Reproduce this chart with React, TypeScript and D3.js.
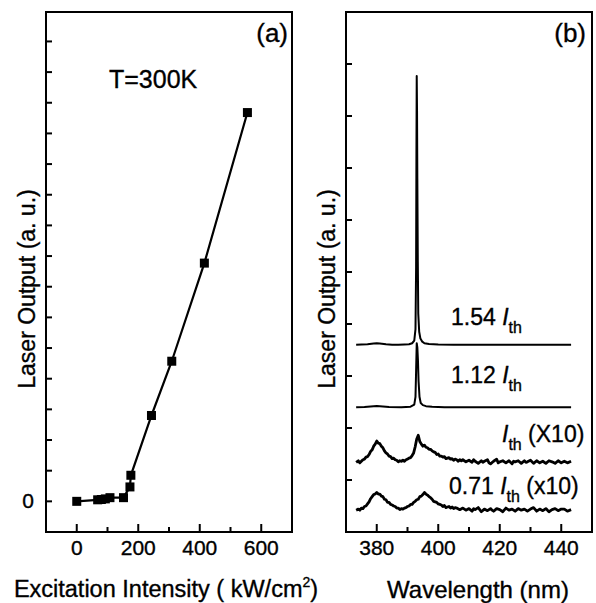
import React from 'react'
import * as d3 from 'd3'

// panel (a): threshold curve
const excitation = [0, 68, 80, 93, 108, 152, 173, 176, 243, 309, 415, 555]
const output = [0, 0.05, 0.06, 0.08, 0.12, 0.12, 0.47, 0.85, 2.8, 4.57, 7.77, 12.68]

// panel (b): spectra, [wavelength nm, intensity above its own offset]
const spec154: [number, number][] = [
  [373.3, 0], [375, 0.005], [377, 0.01], [379, 0.025], [380, 0.03], [381, 0.025], [383, 0.01],
  [385, 0], [387, 0], [389, 0.005], [390.5, 0.01], [391.5, 0.03], [392.2, 0.08], [392.6, 0.3],
  [392.8, 1.5], [392.9, 3.6], [393.0, 5.17], [393.1, 4.5], [393.2, 3.2], [393.35, 1.6],
  [393.5, 0.6], [393.8, 0.25], [394.2, 0.12], [394.8, 0.06], [395.5, 0.03], [397, 0.015],
  [400, 0.005], [405, 0], [410, 0.003], [420, 0], [430, 0.002], [443.2, 0],
]
const spec112: [number, number][] = [
  [373.3, 0], [376, 0.005], [379, 0.02], [380, 0.025], [381, 0.02], [384, 0.005], [388, 0],
  [391, 0.01], [392.2, 0.05], [392.6, 0.2], [392.8, 0.7], [393.0, 1.23], [393.2, 1.15],
  [393.4, 0.9], [393.6, 0.5], [393.9, 0.2], [394.3, 0.08], [395, 0.04], [396, 0.02],
  [398, 0.01], [402, 0], [443.2, 0],
]
const specTh: [number, number][] = [
  [373.3, 0], [374, 0.03], [374.5, -0.01], [375, 0.02], [375.5, 0.05], [376, 0.06], [376.5, 0.1],
  [377, 0.11], [377.5, 0.15], [378, 0.21], [378.5, 0.24], [379, 0.31], [379.5, 0.35],
  [380, 0.41], [380.5, 0.37], [381, 0.36], [381.5, 0.31], [382, 0.28], [382.5, 0.22], [383, 0.18],
  [383.5, 0.16], [384, 0.12], [384.5, 0.11], [385, 0.07], [385.5, 0.08], [386, 0.05], [386.5, 0.04],
  [387, 0.01], [387.5, 0.03], [388, 0.02], [388.5, 0.04], [389, 0.02], [389.5, 0.05], [390, 0.06],
  [390.5, 0.08], [391, 0.09], [391.5, 0.13], [392, 0.18], [392.5, 0.3], [393, 0.45], [393.5, 0.52],
  [394, 0.4], [394.5, 0.35], [395, 0.31], [395.5, 0.33], [396, 0.29], [396.5, 0.28], [397, 0.25],
  [397.5, 0.25], [398, 0.22], [398.5, 0.2], [399, 0.19], [399.5, 0.15], [400, 0.16], [400.5, 0.12],
  [401, 0.12], [401.5, 0.1], [402, 0.11], [402.5, 0.07], [403, 0.08], [403.5, 0.09], [404, 0.06],
  [404.5, 0.07], [405, 0.04], [405.5, 0.06], [406, 0.05], [406.5, 0.02], [407, 0.05], [407.5, 0.03],
  [408, 0.05], [409, 0.01], [410, 0.04], [411, 0], [411.5, 0.05], [412, 0.02], [413, -0.02],
  [414, 0.03], [414.5, 0], [415, 0.02], [416, 0.05], [416.5, -0.01], [417, -0.03], [418, 0.02],
  [419, 0.06], [419.5, -0.01], [420, 0.01], [421, 0.03], [422, -0.01], [423, 0.03], [424, -0.03],
  [424.5, 0.02], [425, 0.01], [426, 0.03], [427, -0.02], [428, 0.03], [428.5, 0], [429, 0.01],
  [430, 0.04], [431, -0.02], [432, 0.03], [433, -0.01], [434, 0.02], [435, -0.02], [436, 0.03],
  [437, 0.01], [438, -0.02], [439, 0.03], [440, -0.01], [441, 0.02], [442, -0.01], [443.2, 0.02],
]
const spec071: [number, number][] = [
  [373.3, 0], [374, 0.02], [374.5, 0], [375, 0.04], [375.5, 0.03], [376, 0.07], [376.5, 0.08],
  [377, 0.12], [377.5, 0.16], [378, 0.22], [378.5, 0.26], [379, 0.3], [379.5, 0.31], [380, 0.34],
  [380.5, 0.31], [381, 0.31], [381.5, 0.27], [382, 0.26], [382.5, 0.21], [383, 0.2], [383.5, 0.15],
  [384, 0.15], [384.5, 0.11], [385, 0.1], [385.5, 0.08], [386, 0.07], [386.5, 0.04], [387, 0.04],
  [387.5, 0.01], [388, 0.03], [388.5, 0.02], [389, 0.04], [389.5, 0.05], [390, 0.07], [390.5, 0.08],
  [391, 0.11], [391.5, 0.11], [392, 0.15], [392.5, 0.17], [393, 0.2], [393.5, 0.21], [394, 0.26],
  [394.5, 0.27], [395, 0.3], [395.5, 0.34], [396, 0.31], [396.5, 0.29], [397, 0.26], [397.5, 0.24],
  [398, 0.21], [398.5, 0.17], [399, 0.16], [399.5, 0.15], [400, 0.12], [400.5, 0.11], [401, 0.1],
  [401.5, 0.07], [402, 0.09], [402.5, 0.05], [403, 0.06], [403.5, 0.07], [404, 0.04], [404.5, 0.06],
  [405, 0.03], [405.5, 0.05], [406, 0.04], [407, 0.01], [408, 0.04], [409, 0], [410, 0.03],
  [411, -0.02], [411.5, 0.03], [412, 0.01], [413, 0.05], [414, -0.03], [415, 0.02], [416, -0.01],
  [417, 0.03], [417.5, 0], [418, -0.02], [419, 0.03], [420, 0.01], [421, -0.03], [422, 0.04],
  [423, 0], [424, 0.02], [425, -0.02], [426, 0.03], [427, 0], [428, 0.02], [429, -0.02],
  [430, 0.02], [431, 0.05], [432, -0.02], [433, 0.02], [434, -0.01], [435, 0.03], [436, -0.03],
  [437, 0.01], [438, 0.03], [439, -0.01], [440, 0.02], [441, 0.02], [442, -0.02], [443.2, 0.01],
]
const spectra = [spec154, spec112, specTh, spec071]
const offsets = [3.6, 2.4, 1.34, 0.42]
const widths = [2, 2, 2.8, 2.8]

const W = 596
const H = 603
const top = 12
const bottom = 532
const font = '"Liberation Sans", Arial, sans-serif'

function Frame({ x0, x1, xs, ys, xTicks, xMinor, yTicks, yLabelTicks }: any) {
  return (
    <g>
      <rect x={x0} y={top} width={x1 - x0} height={bottom - top} fill="none" stroke="#000" strokeWidth={2} />
      {xTicks.map((t: number) => (
        <line key={'M' + t} x1={xs(t)} x2={xs(t)} y1={bottom} y2={bottom - 8} stroke="#000" strokeWidth={2} />
      ))}
      {xMinor.map((t: number) => (
        <line key={'m' + t} x1={xs(t)} x2={xs(t)} y1={bottom} y2={bottom - 5} stroke="#000" strokeWidth={2} />
      ))}
      {yTicks.map((t: number) => (
        <line key={'y' + t} x1={x0} x2={x0 + 6} y1={ys(t)} y2={ys(t)} stroke="#000" strokeWidth={2} />
      ))}
      {xTicks.map((t: number) => (
        <text key={'l' + t} x={xs(t)} y={555} fontSize={21} textAnchor="middle">{t}</text>
      ))}
      {yLabelTicks.map((t: number) => (
        <text key={'yl' + t} x={x0 - 12} y={ys(t) + 7} fontSize={21} textAnchor="end">{t}</text>
      ))}
    </g>
  )
}

function Ith({ x, y, pre, post }: { x: number, y: number, pre?: string, post?: string }) {
  return (
    <text x={x} y={y} fontSize={23}>
      {pre}
      <tspan fontStyle="italic">I</tspan>
      <tspan fontSize={16} dy={8}>th</tspan>
      {post ? <tspan dy={-8}>{post}</tspan> : null}
    </text>
  )
}

export default function App() {
  // panel (a)
  const xa = d3.scaleLinear().domain([-100, 700]).range([46, 292])
  const ya = d3.scaleLinear().domain([-1, 15.96]).range([bottom, top])
  const lineA = d3.line<number>().x((d, i) => xa(excitation[i])).y((d) => ya(d))

  // panel (b)
  const xb = d3.scaleLinear().domain([370, 450]).range([346, 592])
  const yb = d3.scaleLinear().domain([0, 10]).range([bottom, top])

  return (
    <svg width={W} height={H} style={{ position: 'absolute', left: 0, top: 0, background: '#fff' }} fontFamily={font}>
      <rect width={W} height={H} fill="#fff" />
      <g stroke="#000" strokeWidth={0.35}>
        <Frame x0={46} x1={292} xs={xa} ys={ya}
          xTicks={[0, 200, 400, 600]} xMinor={[100, 300, 500]}
          yTicks={d3.range(0, 16)} yLabelTicks={[0]} />
        <text x={109} y={88} fontSize={25}>T=300K</text>
        <text x={288} y={42} fontSize={26} textAnchor="end">(a)</text>
        <text transform={`translate(35,289) rotate(-90)`} fontSize={23} textAnchor="middle">Laser Output (a. u.)</text>
        <text x={166} y={597} fontSize={23.5} textAnchor="middle">
          Excitation Intensity ( kW/cm<tspan fontSize={14} dy={-10}>2</tspan><tspan dy={10}>)</tspan>
        </text>
        <Frame x0={346} x1={592} xs={xb} ys={yb}
          xTicks={[380, 400, 420, 440]} xMinor={[390, 410, 430]}
          yTicks={d3.range(1, 10)} yLabelTicks={[]} />
        <text x={586} y={42} fontSize={26} textAnchor="end">(b)</text>
        <text transform={`translate(335,289) rotate(-90)`} fontSize={23} textAnchor="middle">Laser Output (a. u.)</text>
        <text x={478} y={598} fontSize={24} textAnchor="middle">Wavelength (nm)</text>
        <Ith x={451} y={325} pre="1.54 " />
        <Ith x={451} y={383} pre="1.12 " />
        <Ith x={502} y={442} post=" (X10)" />
        <Ith x={449} y={494} pre="0.71 " post=" (x10)" />
      </g>
      <path d={lineA(output) || ''} fill="none" stroke="#000" strokeWidth={2.2} />
      {output.map((v, i) => (
        <rect key={i} x={xa(excitation[i]) - 4.5} y={ya(v) - 4.5} width={9} height={9} fill="#000" />
      ))}
      {spectra.map((s, k) => {
        const line = d3.line<[number, number]>().x((d) => xb(d[0])).y((d) => yb(d[1] + offsets[k]))
        return <path key={k} d={line(s) || ''} fill="none" stroke="#000" strokeWidth={widths[k]} strokeLinejoin="round" />
      })}
    </svg>
  )
}
